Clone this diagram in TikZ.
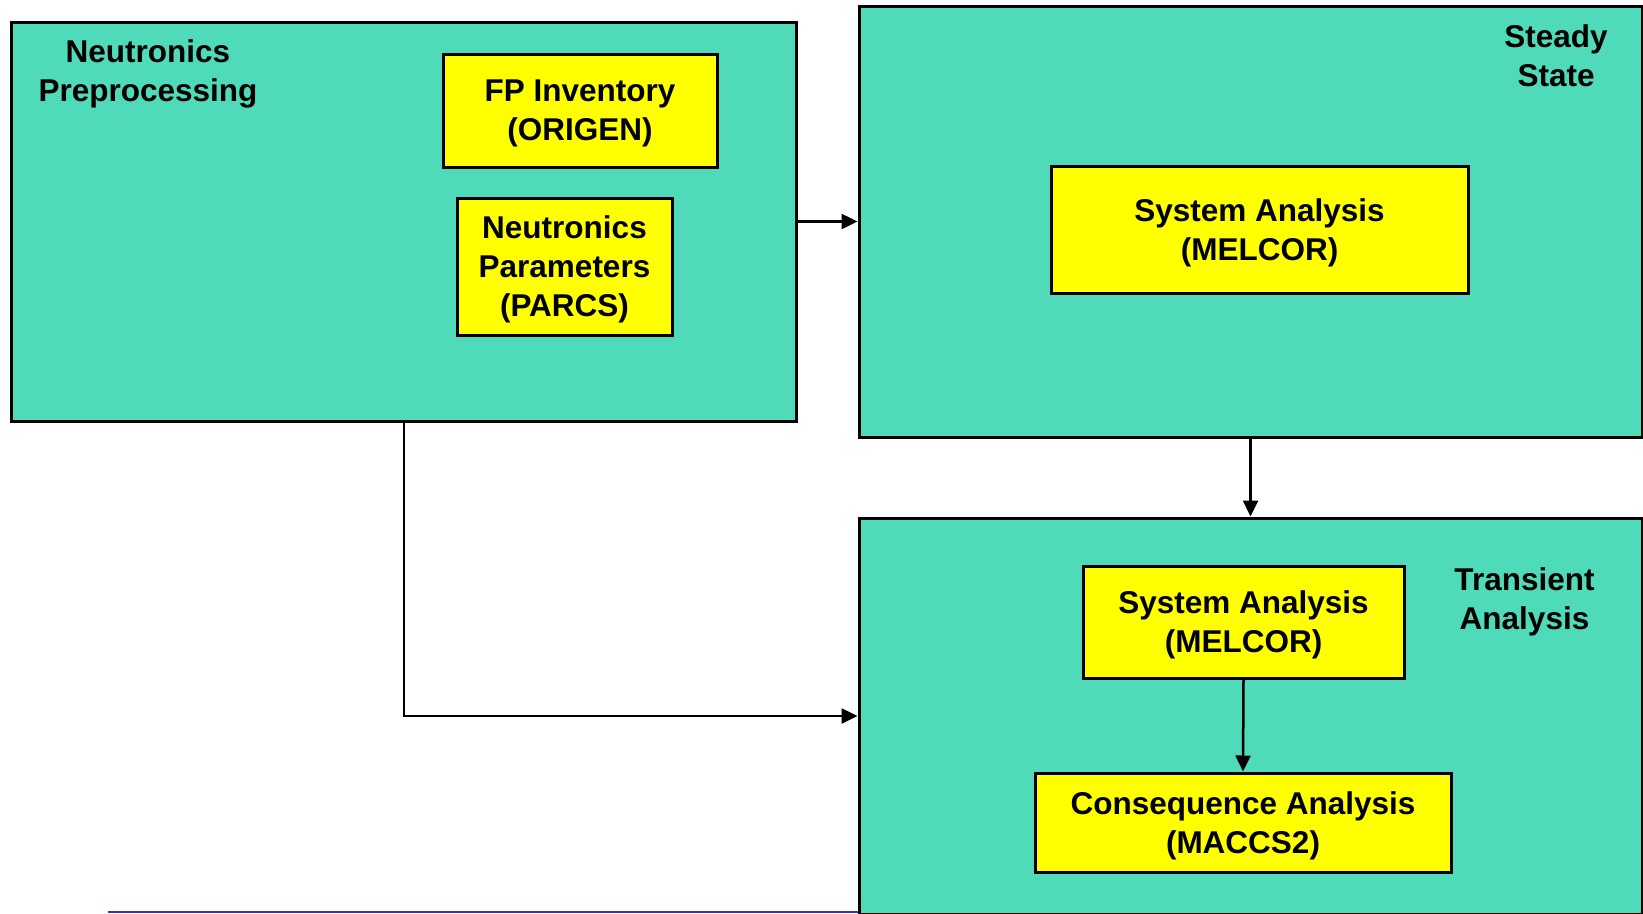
\documentclass[tikz,border=0pt]{standalone}
\usepackage{fontspec}
\setmainfont{Liberation Sans}
\usepackage{tikz}
\usetikzlibrary{arrows.meta}
\usetikzlibrary{positioning}

\definecolor{stagegreen}{RGB}{79,219,185}
\definecolor{codeyellow}{RGB}{255,255,0}
\definecolor{rulerblue}{RGB}{50,50,200}

\tikzset{
    stage/.style={draw=black, fill=stagegreen, line width=3pt, inner sep=0pt},
    code/.style={draw=black, fill=codeyellow, line width=3pt, inner sep=0pt, align=center, text depth=0pt},
    title/.style={align=center, inner sep=0pt},
    flow/.style={line width=2.5pt, -{Triangle[length=16pt,width=15pt]}}
}

\begin{document}
\begin{tikzpicture}[x=1pt, y=-1pt, font=\fontsize{31.5}{39}\selectfont\bfseries]

    % Rahmen
    \useasboundingbox (0,0) rectangle (1643,913);

    % Phasen
    \node[stage, minimum width=784.5pt, minimum height=399pt] (pre) at (404,221.5) {};
    \node[stage, minimum width=783pt, minimum height=431pt] (steady) at (1250.5,221.5) {};
    \node[stage, minimum width=783pt, minimum height=396pt] (trans) at (1250.5,716) {};

    % Phasen-Titel
    \node[title] (pretitle) at (148,74) {Neutronics\\Preprocessing};
    \node[title] (steadytitle) at (1556,56) {Steady\\State};
    \node[title] (transtitle) at (1524.5,602) {Transient\\Analysis};

    % Codes
    \node[code, minimum width=274pt, minimum height=113pt] (origen) at (580,110.5) {FP Inventory\\(ORIGEN)};
    \node[code, minimum width=215pt, minimum height=137pt] (parcs) at (564.5,266.5) {Neutronics\\Parameters\\(PARCS)};
    \node[code, minimum width=417pt, minimum height=127pt] (melcorss) at (1259.5,229.5) {System Analysis\\(MELCOR)};
    \node[code, minimum width=321pt, minimum height=112pt] (melcortr) at (1243.5,622) {System Analysis\\(MELCOR)};
    \node[code, minimum width=416pt, minimum height=99pt] (maccs) at (1243,822.5) {Consequence Analysis\\(MACCS2)};

    % Verbindungen
    \draw[flow] (pre.east) -- (steady.west);
    \draw[flow] (steady.south) -- (trans.north);
    \draw[flow] (pre.south) |- (trans.west);
    \draw[flow] (melcortr.south) -- (maccs.north);

    % Linie unten
    \coordinate (rulestart) at (108,911.5);
    \draw[rulerblue, line width=2pt] (rulestart) -- (rulestart -| trans.west);
\end{tikzpicture}
\end{document}
